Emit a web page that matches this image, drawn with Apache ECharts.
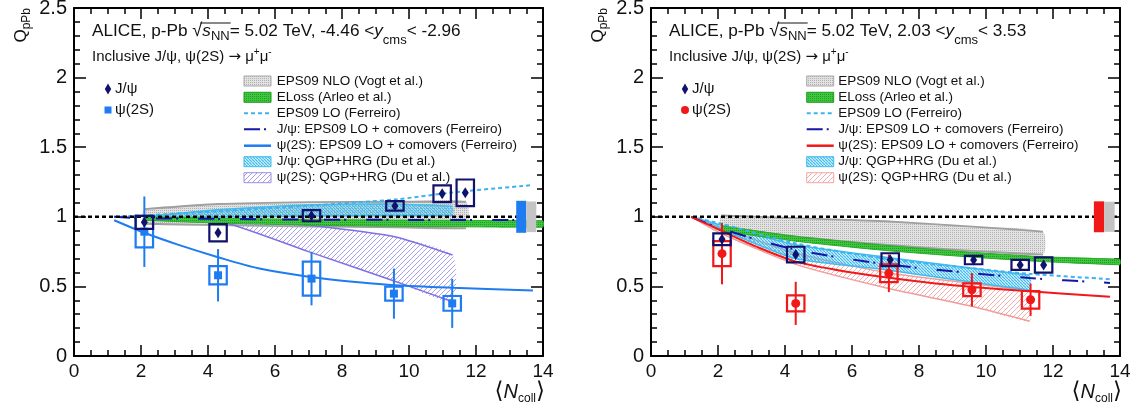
<!DOCTYPE html>
<html>
<head>
<meta charset="utf-8">
<script src="https://cdn.jsdelivr.net/npm/echarts@6/dist/echarts.min.js"></script>
<style>
  html, body { margin: 0; padding: 0; background: #fff; }
  #chart { width: 1140px; height: 414px; }
</style>
</head>
<body>
<div id="chart"></div>
<script>
// ---------- axes ----------
const xTickLabels = [0, 2, 4, 6, 8, 10, 12, 14];
const yTickLabels = [0, 0.5, 1, 1.5, 2, 2.5];
const refLevel = 1;

// ---------- backward rapidity (-4.46 < y_cms < -2.96) ----------
const jpsiB_x    = [2.10, 4.30, 7.09, 9.58, 10.99, 11.68];
const jpsiB_y    = [0.960, 0.886, 1.008, 1.078, 1.166, 1.172];
const jpsiB_stat = [0.020, 0.020, 0.020, 0.015, 0.020, 0.020];
const jpsiB_sys  = [0.047, 0.062, 0.040, 0.034, 0.060, 0.096];

const psiB_x    = [2.10, 4.30, 7.09, 9.55, 11.29];
const psiB_y    = [0.893, 0.580, 0.556, 0.448, 0.378];
const psiB_stat = [0.253, 0.188, 0.192, 0.180, 0.176];
const psiB_sys  = [0.113, 0.066, 0.122, 0.050, 0.053];

const vogtB_x  = [2.1, 4.3, 7.0, 9.6, 11.7];
const vogtB_hi = [1.055, 1.092, 1.106, 1.108, 1.108];
const vogtB_lo = [0.950, 0.940, 0.930, 0.924, 0.917];

const elossB_x  = [2.1, 4.3, 7.0, 9.6, 11.7, 14.0];
const elossB_hi = [1.000, 0.990, 0.980, 0.977, 0.974, 0.972];
const elossB_lo = [0.975, 0.955, 0.940, 0.932, 0.928, 0.925];

const ferrB_x     = [1.2, 2.1, 4.3, 7.0, 9.6, 11.3, 13.7];
const eps09loB_y  = [1.000, 1.010, 1.040, 1.080, 1.125, 1.175, 1.228];
const jpsiComB_y  = [1.000, 0.990, 0.985, 0.980, 0.978, 0.977, 0.977];
const psiComB_x   = [1.2, 2.1, 3.1, 4.3, 5.5, 7.0, 8.5, 9.6, 11.3, 13.7];
const psiComB_y   = [0.975, 0.885, 0.800, 0.710, 0.630, 0.570, 0.530, 0.508, 0.490, 0.470];

const duJpsiB_x  = [2.1, 4.3, 7.0, 9.6, 11.3];
const duJpsiB_hi = [1.000, 1.050, 1.085, 1.092, 1.075];
const duJpsiB_lo = [0.995, 1.000, 1.005, 1.010, 1.010];
const duPsiB_x   = [2.1, 4.3, 7.0, 9.6, 11.3];
const duPsiB_hi  = [1.000, 0.975, 0.940, 0.855, 0.725];
const duPsiB_lo  = [0.995, 0.972, 0.750, 0.535, 0.390];

const globB_x0   = [13.20, 13.50];
const globB_x1   = [13.50, 13.80];
const globB_half = [0.115, 0.110];

// ---------- forward rapidity (2.03 < y_cms < 3.53) ----------
const jpsiF_x    = [2.12, 4.32, 7.14, 9.63, 11.02, 11.72];
const jpsiF_y    = [0.839, 0.729, 0.692, 0.689, 0.654, 0.654];
const jpsiF_stat = [0.020, 0.020, 0.015, 0.012, 0.015, 0.020];
const jpsiF_sys  = [0.042, 0.056, 0.046, 0.030, 0.036, 0.055];

const psiF_x    = [2.12, 4.32, 7.10, 9.58, 11.33];
const psiF_y    = [0.735, 0.378, 0.594, 0.476, 0.404];
const psiF_stat = [0.220, 0.155, 0.135, 0.120, 0.116];
const psiF_sys  = [0.090, 0.058, 0.064, 0.046, 0.063];

const vogtF_x  = [2.1, 4.3, 7.0, 9.6, 11.7];
const vogtF_hi = [1.010, 0.990, 0.968, 0.930, 0.893];
const vogtF_lo = [0.930, 0.860, 0.800, 0.755, 0.728];

const elossF_x  = [2.1, 4.3, 7.0, 9.6, 11.7, 14.0];
const elossF_hi = [0.935, 0.860, 0.795, 0.745, 0.713, 0.695];
const elossF_lo = [0.900, 0.825, 0.758, 0.710, 0.678, 0.655];

const ferrF_x     = [1.2, 2.1, 4.3, 7.0, 9.6, 11.3, 13.7];
const eps09loF_y  = [1.000, 0.950, 0.810, 0.700, 0.630, 0.590, 0.552];
const jpsiComF_y  = [1.000, 0.915, 0.765, 0.660, 0.595, 0.560, 0.525];
const psiComF_x   = [1.2, 2.1, 3.2, 4.3, 5.5, 7.0, 8.5, 9.6, 11.3, 13.7];
const psiComF_y   = [1.000, 0.900, 0.780, 0.680, 0.620, 0.565, 0.520, 0.495, 0.465, 0.425];

const duJpsiF_x  = [1.2, 2.1, 4.3, 7.0, 9.6, 11.3];
const duJpsiF_hi = [1.000, 0.940, 0.800, 0.710, 0.630, 0.580];
const duJpsiF_lo = [1.000, 0.910, 0.700, 0.620, 0.530, 0.475];
const duPsiF_x   = [1.2, 2.1, 4.3, 7.0, 9.6, 11.3];
const duPsiF_hi  = [1.000, 0.920, 0.740, 0.600, 0.520, 0.470];
const duPsiF_lo  = [1.000, 0.880, 0.660, 0.490, 0.355, 0.250];

const globF_x0   = [13.22, 13.53];
const globF_x1   = [13.53, 13.84];
const globF_half = [0.111, 0.108];

// ---------- text ----------
const modelLabels = [
  'EPS09 NLO (Vogt et al.)',
  'ELoss (Arleo et al.)',
  'EPS09 LO (Ferreiro)',
  'J/ψ: EPS09 LO + comovers (Ferreiro)',
  'ψ(2S): EPS09 LO + comovers (Ferreiro)',
  'J/ψ: QGP+HRG (Du et al.)',
  'ψ(2S): QGP+HRG (Du et al.)'
];
const rapidityB = ['-4.46', '-2.96'];
const rapidityF = ['2.03', '3.53'];

// ---------- styling ----------
const FONT = '"Liberation Sans", Arial, Helvetica, sans-serif';
const INK = '#111';
const NAVY = '#12126c';
const BLUE = '#1f7cf0';
const RED = '#f01818';
const FERR_LO = '#3db2f0';
const CYAN = '#42bced';
const boxHalfW = 0.26;

function pattern(size, paint) {
  const c = document.createElement('canvas');
  c.width = c.height = size;
  paint(c.getContext('2d'), size);
  return { image: c, repeat: 'repeat' };
}
function hatch(color, up, s, lw) {
  return pattern(s, (g) => {
    g.strokeStyle = color; g.lineWidth = lw; g.beginPath();
    for (const k of [-s, 0, s]) {
      if (up) { g.moveTo(k, s); g.lineTo(k + s, 0); }
      else { g.moveTo(k, 0); g.lineTo(k + s, s); }
    }
    g.stroke();
  });
}
const fillGrey = pattern(2, (g) => { g.fillStyle = '#e2e2e2'; g.fillRect(0, 0, 2, 2); g.fillStyle = '#b2b2b2'; g.fillRect(0, 0, 1, 1); });
const fillGreen = pattern(2, (g) => { g.fillStyle = '#40c640'; g.fillRect(0, 0, 2, 2); g.fillStyle = '#1e9e1e'; g.fillRect(0, 0, 1, 1); });
const fillCyan = hatch(CYAN, false, 3, 1.4);
const fillPurple = hatch('#a79eec', true, 5, 1);
const fillPink = hatch('#f4b0b0', true, 5, 1);

// ---------- series builders ----------
function band(gi, xs, lo, hi, fill, edge, edgeW, z) {
  const data = xs.map((x, i) => [x, lo[i], hi[i]]);
  return {
    type: 'custom', xAxisIndex: gi * 2, yAxisIndex: gi * 2, z, silent: true,
    data, encode: { x: 0, y: [1, 2] },
    renderItem: (p, api) => {
      if (p.dataIndex !== 0) return null;
      const up = data.map(d => api.coord([d[0], d[2]]));
      const dn = data.map(d => api.coord([d[0], d[1]]));
      return {
        type: 'group', children: [
          { type: 'polygon', shape: { points: up.concat(dn.slice().reverse()), smooth: 0.2 }, style: { fill, stroke: null } },
          { type: 'polyline', shape: { points: up, smooth: 0.2 }, style: { stroke: edge, lineWidth: edgeW, fill: null } },
          { type: 'polyline', shape: { points: dn, smooth: 0.2 }, style: { stroke: edge, lineWidth: edgeW, fill: null } }
        ]
      };
    }
  };
}
function curve(gi, xs, ys, color, width, dash, z) {
  return {
    type: 'line', xAxisIndex: gi * 2, yAxisIndex: gi * 2, z, silent: true,
    data: xs.map((x, i) => [x, ys[i]]), symbol: 'none', smooth: 0.3,
    lineStyle: { color, width, type: dash || 'solid' }
  };
}
function points(gi, xs, ys, stat, sys, color, z) {
  return {
    type: 'custom', xAxisIndex: gi * 2, yAxisIndex: gi * 2, z, silent: true,
    data: xs.map((x, i) => [x, ys[i], stat[i], sys[i]]), encode: { x: 0, y: 1 },
    renderItem: (p, api) => {
      const x = api.value(0), y = api.value(1), st = api.value(2), sy = api.value(3);
      const a = api.coord([x, y - st]), b = api.coord([x, y + st]);
      const c0 = api.coord([x - boxHalfW, y + sy]), c1 = api.coord([x + boxHalfW, y - sy]);
      return {
        type: 'group', children: [
          { type: 'line', shape: { x1: a[0], y1: a[1], x2: b[0], y2: b[1] }, style: { stroke: color, lineWidth: 2 } },
          { type: 'rect', shape: { x: c0[0], y: c0[1], width: c1[0] - c0[0], height: c1[1] - c0[1] },
            style: { stroke: color, lineWidth: 2.2, fill: 'none' } }
        ]
      };
    }
  };
}
function markers(gi, xs, ys, symbol, size, color, z) {
  return {
    type: 'scatter', xAxisIndex: gi * 2, yAxisIndex: gi * 2, z, silent: true,
    data: xs.map((x, i) => [x, ys[i]]), symbol, symbolSize: size,
    itemStyle: { color, opacity: 1 }
  };
}
function globalBoxes(gi, x0, x1, half, colors, z) {
  return {
    type: 'custom', xAxisIndex: gi * 2, yAxisIndex: gi * 2, z, silent: true,
    data: x0.map((x, i) => [x, x1[i], half[i], i]), encode: { x: [0, 1] },
    renderItem: (p, api) => {
      const a = api.coord([api.value(0), refLevel + api.value(2)]);
      const b = api.coord([api.value(1), refLevel - api.value(2)]);
      return { type: 'rect', shape: { x: a[0], y: a[1], width: b[0] - a[0], height: b[1] - a[1] },
               style: { fill: colors[api.value(3)] } };
    }
  };
}
function unity(gi) {
  return {
    type: 'line', xAxisIndex: gi * 2, yAxisIndex: gi * 2, z: 6, silent: true,
    data: [[xTickLabels[0], refLevel], [xTickLabels[xTickLabels.length - 1], refLevel]],
    symbol: 'none', lineStyle: { color: '#000', width: 2.6, type: [4, 3] }
  };
}

// ---------- axes ----------
const tickStyle = { color: '#000', width: 1.5 };
function xAxes(gi) {
  const base = {
    gridIndex: gi, type: 'value',
    min: xTickLabels[0], max: xTickLabels[xTickLabels.length - 1], interval: xTickLabels[1] - xTickLabels[0],
    axisLine: { show: true, onZero: false, lineStyle: { color: '#000', width: 2 } },
    axisTick: { show: true, inside: true, length: 11, lineStyle: tickStyle },
    minorTick: { show: true, splitNumber: 4, length: 6, lineStyle: tickStyle },
    splitLine: { show: false }, minorSplitLine: { show: false }
  };
  return [
    Object.assign({}, base, { position: 'bottom',
      axisLabel: { show: true, margin: 6, fontSize: 19, color: INK, fontFamily: FONT } }),
    Object.assign({}, base, { position: 'top', axisLabel: { show: false } })
  ];
}
function yAxes(gi) {
  const base = {
    gridIndex: gi, type: 'value',
    min: yTickLabels[0], max: yTickLabels[yTickLabels.length - 1], interval: yTickLabels[1] - yTickLabels[0],
    axisLine: { show: true, onZero: false, lineStyle: { color: '#000', width: 2 } },
    axisTick: { show: true, inside: true, length: 12, lineStyle: tickStyle },
    minorTick: { show: true, splitNumber: 5, length: 6, lineStyle: tickStyle },
    splitLine: { show: false }, minorSplitLine: { show: false }
  };
  return [
    Object.assign({}, base, { position: 'left',
      axisLabel: { show: true, margin: 7, fontSize: 20, color: INK, fontFamily: FONT } }),
    Object.assign({}, base, { position: 'right', axisLabel: { show: false } })
  ];
}

// ---------- text helpers ----------
const measureCtx = document.createElement('canvas').getContext('2d');
function textWidth(str, size, italic) {
  measureCtx.font = (italic ? 'italic ' : '') + size + 'px ' + FONT;
  return measureCtx.measureText(str).width;
}
function tok(size, extra) {
  return Object.assign({ fontSize: size, fontFamily: FONT, fill: INK }, extra || {});
}
function text(x, y, str, rich, extra) {
  return Object.assign({
    type: 'text', x, y, silent: true,
    style: { text: str, rich, fill: INK, fontFamily: FONT, align: 'left', verticalAlign: 'middle',
             textAlign: 'left', textVerticalAlign: 'middle' }
  }, extra || {});
}

const T = 17.2;
const titleRich = {
  n: tok(T), sq: tok(T + 1), it: tok(T, { fontStyle: 'italic' }),
  nn: tok(13, { padding: [11, 0, 0, 0] }), cms: tok(13, { padding: [18, 0, 0, 0] })
};
const subRich = {
  n: tok(15), ar: tok(15, { fontFamily: '"DejaVu Sans", sans-serif' }),
  sup: tok(10, { padding: [0, 0, 10, 0] })
};
const legRich = { n: tok(15) };
const modRich = { n: tok(13.5) };
const qRich = { q: tok(17), s: tok(12, { padding: [11, 0, 0, 0] }) };
const nRich = {
  br: tok(23, { fontFamily: '"DejaVu Sans", sans-serif' }),
  it: tok(20, { fontStyle: 'italic' }),
  s: tok(12, { padding: [14, 0, 0, 0] })
};

function panelText(left, axisRight, rap, psiSymbol, psiColor, legX, symX, edgeColor) {
  const els = [];
  const tx = left + 18;
  const titleStr = '{n|ALICE, p-Pb }{sq|√}{it|s}{nn|NN}{n|= 5.02 TeV, ' + rap[0] + ' <}{it|y}{cms|cms}{n|< ' + rap[1] + '}';
  els.push(text(tx, 31, titleStr, titleRich));
  // radical overbar
  const pre = textWidth('ALICE, p-Pb ', T), rad = textWidth('√', T + 1);
  const bx0 = tx + pre + rad * 0.8;
  const bx1 = tx + pre + rad + textWidth('s', T, true) + textWidth('NN', 13) + 1;
  els.push({ type: 'line', silent: true, shape: { x1: bx0, y1: 23, x2: bx1, y2: 23 }, style: { stroke: INK, lineWidth: 1 } });
  els.push(text(tx, 57, '{n|Inclusive J/ψ, ψ(2S) }{ar|→}{n| μ}{sup|+}{n|μ}{sup|-}', subRich));

  // data legend
  const mx = left + 34;
  els.push({ type: 'polygon', silent: true, shape: { points: [[mx, 83.5], [mx + 3.2, 89], [mx, 94.5], [mx - 3.2, 89]] }, style: { fill: NAVY } });
  if (psiSymbol === 'rect') {
    els.push({ type: 'rect', silent: true, shape: { x: mx - 3.5, y: 106.5, width: 7, height: 7 }, style: { fill: psiColor } });
  } else {
    els.push({ type: 'circle', silent: true, shape: { cx: mx, cy: 110, r: 4 }, style: { fill: psiColor } });
  }
  els.push(text(mx + 7, 89, '{n|J/ψ}', legRich));
  els.push(text(mx + 7, 110, '{n|ψ(2S)}', legRich));

  // model legend
  const rows = [81, 97.3, 113.3, 129.3, 145.7, 161.7, 177.7];
  const w = 27, h = 10;
  const boxes = [
    [fillGrey, '#a8a8a8'], [fillGreen, '#1d9a1d']
  ];
  boxes.forEach((b, i) => {
    els.push({ type: 'rect', silent: true, shape: { x: symX, y: rows[i] - h / 2, width: w, height: h }, style: { fill: b[0], stroke: b[1], lineWidth: 1 } });
  });
  els.push({ type: 'line', silent: true, shape: { x1: symX, y1: rows[2], x2: symX + w, y2: rows[2] }, style: { stroke: FERR_LO, lineWidth: 2, lineDash: [4, 3] } });
  els.push({ type: 'line', silent: true, shape: { x1: symX, y1: rows[3], x2: symX + w, y2: rows[3] }, style: { stroke: '#1515a8', lineWidth: 2, lineDash: [16, 4, 2, 20] } });
  els.push({ type: 'line', silent: true, shape: { x1: symX, y1: rows[4], x2: symX + w, y2: rows[4] }, style: { stroke: psiColor, lineWidth: 2.5 } });
  els.push({ type: 'rect', silent: true, shape: { x: symX, y: rows[5] - h / 2, width: w, height: h }, style: { fill: fillCyan, stroke: CYAN, lineWidth: 1 } });
  els.push({ type: 'rect', silent: true, shape: { x: symX, y: rows[6] - h / 2, width: w, height: h }, style: { fill: edgeColor[0], stroke: edgeColor[1], lineWidth: 1 } });
  modelLabels.forEach((m, i) => els.push(text(legX, rows[i], '{n|' + m + '}', modRich)));

  // axis titles
  const q = text(left - 53, 8, '{q|Q}{s|pPb}', qRich, { rotation: Math.PI / 2 });
  q.style.align = 'right'; q.style.textAlign = 'right';
  els.push(q);
  const nc = text(axisRight + 2, 392, '{br|⟨}{it|N}{s|coll}{br|⟩}', nRich);
  nc.style.align = 'right'; nc.style.textAlign = 'right';
  els.push(nc);
  return els;
}

// ---------- layout ----------
const grids = [
  { left: 74, top: 8, width: 469, height: 348 },
  { left: 651, top: 8, width: 469, height: 348 }
];

const series = [
  // backward
  band(0, vogtB_x, vogtB_lo, vogtB_hi, fillGrey, '#a0a0a0', 1.8, 1),
  band(0, duPsiB_x, duPsiB_lo, duPsiB_hi, fillPurple, '#7f6fe6', 1.5, 2),
  band(0, duJpsiB_x, duJpsiB_lo, duJpsiB_hi, fillCyan, CYAN, 1.5, 2),
  band(0, elossB_x, elossB_lo, elossB_hi, fillGreen, '#28ad28', 1, 3),
  curve(0, ferrB_x, eps09loB_y, FERR_LO, 2, [4, 3], 4),
  curve(0, ferrB_x, jpsiComB_y, '#1515a8', 2, [16, 4, 2, 20], 4),
  curve(0, psiComB_x, psiComB_y, BLUE, 2, 'solid', 4),
  unity(0),
  globalBoxes(0, globB_x0, globB_x1, globB_half, [BLUE, '#c4c4c4'], 7),
  points(0, psiB_x, psiB_y, psiB_stat, psiB_sys, BLUE, 8),
  markers(0, psiB_x, psiB_y, 'rect', 8, BLUE, 9),
  points(0, jpsiB_x, jpsiB_y, jpsiB_stat, jpsiB_sys, NAVY, 10),
  markers(0, jpsiB_x, jpsiB_y, 'diamond', [7, 11], NAVY, 11),
  // forward
  band(1, vogtF_x, vogtF_lo, vogtF_hi, fillGrey, '#a0a0a0', 1.8, 1),
  band(1, duPsiF_x, duPsiF_lo, duPsiF_hi, fillPink, '#f29c9c', 1.5, 2),
  band(1, duJpsiF_x, duJpsiF_lo, duJpsiF_hi, fillCyan, CYAN, 1.5, 2),
  band(1, elossF_x, elossF_lo, elossF_hi, fillGreen, '#28ad28', 1, 3),
  curve(1, ferrF_x, eps09loF_y, FERR_LO, 2, [4, 3], 4),
  curve(1, ferrF_x, jpsiComF_y, '#1515a8', 2, [16, 4, 2, 20], 4),
  curve(1, psiComF_x, psiComF_y, RED, 2, 'solid', 4),
  unity(1),
  globalBoxes(1, globF_x0, globF_x1, globF_half, [RED, '#c4c4c4'], 7),
  points(1, psiF_x, psiF_y, psiF_stat, psiF_sys, RED, 8),
  markers(1, psiF_x, psiF_y, 'circle', 9, RED, 9),
  points(1, jpsiF_x, jpsiF_y, jpsiF_stat, jpsiF_sys, NAVY, 10),
  markers(1, jpsiF_x, jpsiF_y, 'diamond', [7, 11], NAVY, 11)
];

const graphics = []
  .concat(panelText(74, 543, rapidityB, 'rect', BLUE, 276.7, 244, [fillPurple, '#9a8ee8']))
  .concat(panelText(651, 1120, rapidityF, 'circle', RED, 838.3, 806.7, [fillPink, '#f2a6a6']));

const chart = echarts.init(document.getElementById('chart'), null, { renderer: 'canvas' });
chart.setOption({
  animation: false,
  backgroundColor: '#fff',
  textStyle: { fontFamily: FONT },
  grid: grids.map(g => Object.assign({ outerBoundsMode: 'none', containLabel: false }, g)),
  xAxis: [].concat(xAxes(0), xAxes(1)),
  yAxis: [].concat(yAxes(0), yAxes(1)),
  series,
  graphic: { elements: graphics }
});
</script>
</body>
</html>
